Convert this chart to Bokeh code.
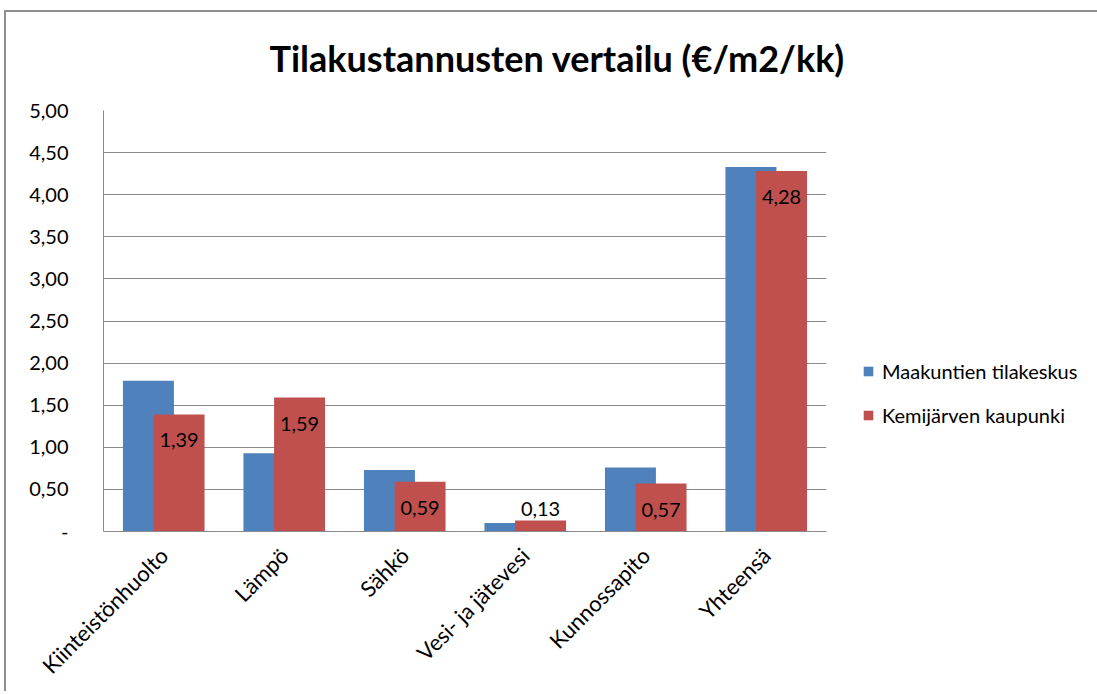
import math
from bokeh.plotting import figure
from bokeh.models import (Range1d, FactorRange, FixedTicker, CustomJSTickFormatter,
                          Legend, LegendItem, ColumnDataSource)
from bokeh.transform import dodge
from bokeh.core.properties import value
from bokeh.embed import file_html
from bokeh.resources import INLINE

# ---- data ----
categories = ["Kiinteistönhuolto", "Lämpö", "Sähkö", "Vesi- ja jätevesi", "Kunnossapito", "Yhteensä"]
maakuntien = [1.79, 0.93, 0.73, 0.10, 0.76, 4.33]
kemijarvi = [1.39, 1.59, 0.59, 0.13, 0.57, 4.28]
kemijarvi_labels = ["1,39", "1,59", "0,59", "0,13", "0,57", "4,28"]
series_names = ["Maakuntien tilakeskus", "Kemijärven kaupunki"]
y_ticks = [0, 0.5, 1.0, 1.5, 2.0, 2.5, 3.0, 3.5, 4.0, 4.5, 5.0]
title_text = "Tilakustannusten vertailu (€/m2/kk)"

BLUE = "#4F81BD"
RED = "#C0504D"
GRID = "#8a8a8a"
FONT = "Lato"

src = ColumnDataSource(dict(
    cat=categories, a=maakuntien, b=kemijarvi, lab=kemijarvi_labels,
    yoff=[26 if v > 0.3 else -12 for v in kemijarvi],
))

p = figure(x_range=FactorRange(*categories, range_padding=0), y_range=Range1d(0, 5),
           frame_width=723, frame_height=421,
           min_border_left=99, min_border_top=110, min_border_right=260, min_border_bottom=150,
           output_backend="svg", toolbar_location=None)
p.outline_line_color = None
p.background_fill_color = "white"
p.border_fill_alpha = 0
# chart-area frame lines (top and left) drawn as page background behind the transparent border
p.styles = {
    "margin-left": "4px",
    "background": ("linear-gradient(#8f8f8f, #8f8f8f) 0px 10px / 100% 2px no-repeat, "
                   "linear-gradient(#8f8f8f, #8f8f8f) 0px 10px / 2px 100% no-repeat, white"),
}

r1 = p.vbar(x=dodge("cat", -0.127, range=p.x_range), top="a", width=0.423, source=src,
            fill_color=BLUE, line_color=None)
r2 = p.vbar(x=dodge("cat", 0.127, range=p.x_range), top="b", width=0.423, source=src,
            fill_color=RED, line_color=None)

p.text(x=dodge("cat", 0.127, range=p.x_range), y="b", text="lab", y_offset="yoff", source=src,
       text_align="center", text_baseline="middle", text_font=value(FONT),
       text_font_size="20px", text_color="black")

# axes
p.yaxis.ticker = FixedTicker(ticks=y_ticks)
p.yaxis.formatter = CustomJSTickFormatter(code="return tick == 0 ? '-' : tick.toFixed(2).replace('.', ',');")
p.yaxis.major_tick_line_color = None
p.yaxis.minor_tick_line_color = None
p.yaxis.major_label_standoff = 29
p.yaxis.axis_line_color = GRID
p.yaxis.major_label_text_font = FONT
p.yaxis.major_label_text_font_size = "20px"
p.yaxis.major_label_text_color = "black"

p.xaxis.major_label_orientation = math.pi / 4
p.xaxis.major_tick_line_color = None
p.xaxis.axis_line_color = GRID
p.xaxis.major_label_standoff = 14
p.xaxis.major_label_text_font = FONT
p.xaxis.major_label_text_font_size = "22px"
p.xaxis.major_label_text_color = "black"

p.xgrid.grid_line_color = None
p.ygrid.grid_line_color = GRID
p.ygrid.grid_line_width = 1

# title
p.title.text = title_text
p.title.text_font = FONT
p.title.text_font_style = "bold"
p.title.text_font_size = "36px"
p.title.align = "left"
p.title.offset = 166
p.title.standoff = 62
p.title.text_color = "black"

legend = Legend(items=[LegendItem(label=series_names[0], renderers=[r1]),
                       LegendItem(label=series_names[1], renderers=[r2])],
                location=(36, 104))
legend.glyph_width = 12
legend.glyph_height = 12
legend.label_standoff = 8
legend.spacing = 20
legend.padding = 0
legend.margin = 0
legend.label_height = 20
legend.border_line_color = None
legend.background_fill_alpha = 0
legend.label_text_font = FONT
legend.label_text_font_size = "20px"
legend.label_text_color = "black"
p.add_layout(legend, "right")

open("out.html", "w").write(file_html(p, INLINE))
